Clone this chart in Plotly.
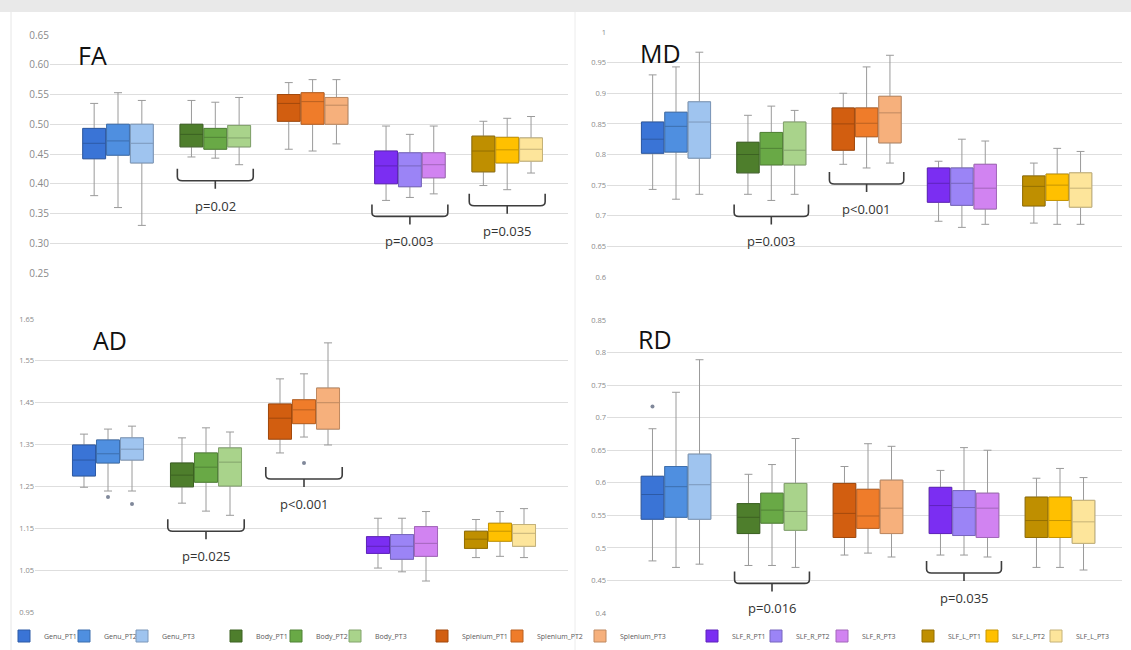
import plotly.graph_objects as go

# ---------------- data ----------------
REGIONS = ["Genu", "Body", "Splenium", "SLF_R", "SLF_L"]
TIMEPOINTS = ["PT1", "PT2", "PT3"]

# order: Genu PT1..PT3, Body PT1..PT3, Splenium PT1..PT3, SLF_R PT1..PT3, SLF_L PT1..PT3
FA_LOW = [0.380, 0.360, 0.330, 0.445, 0.443, 0.432, 0.458, 0.455, 0.467, 0.372, 0.377, 0.383, 0.397, 0.390, 0.418]
FA_Q1 = [0.442, 0.448, 0.435, 0.462, 0.458, 0.462, 0.505, 0.500, 0.500, 0.400, 0.395, 0.410, 0.420, 0.435, 0.438]
FA_MED = [0.468, 0.472, 0.468, 0.483, 0.478, 0.477, 0.535, 0.538, 0.532, 0.430, 0.430, 0.432, 0.455, 0.457, 0.458]
FA_Q3 = [0.493, 0.500, 0.500, 0.500, 0.493, 0.498, 0.550, 0.553, 0.545, 0.455, 0.452, 0.452, 0.480, 0.478, 0.477]
FA_HIGH = [0.535, 0.553, 0.540, 0.540, 0.537, 0.545, 0.570, 0.575, 0.575, 0.497, 0.483, 0.497, 0.505, 0.510, 0.513]

MD_LOW = [0.743, 0.727, 0.735, 0.735, 0.725, 0.735, 0.784, 0.778, 0.786, 0.691, 0.681, 0.686, 0.688, 0.686, 0.686]
MD_Q1 = [0.802, 0.804, 0.794, 0.770, 0.783, 0.783, 0.807, 0.829, 0.819, 0.722, 0.717, 0.711, 0.716, 0.725, 0.714]
MD_MED = [0.825, 0.846, 0.853, 0.800, 0.810, 0.807, 0.850, 0.851, 0.868, 0.753, 0.753, 0.745, 0.748, 0.750, 0.745]
MD_Q3 = [0.853, 0.869, 0.886, 0.820, 0.836, 0.853, 0.876, 0.876, 0.895, 0.778, 0.778, 0.784, 0.765, 0.768, 0.770]
MD_HIGH = [0.930, 0.943, 0.967, 0.864, 0.879, 0.872, 0.900, 0.943, 0.962, 0.789, 0.825, 0.822, 0.786, 0.810, 0.805]

AD_LOW = [1.248, 1.239, 1.239, 1.210, 1.191, 1.181, 1.330, 1.368, 1.349, 1.055, 1.046, 1.024, 1.080, 1.083, 1.080]
AD_Q1 = [1.275, 1.306, 1.313, 1.249, 1.260, 1.251, 1.363, 1.400, 1.387, 1.090, 1.076, 1.083, 1.102, 1.119, 1.107]
AD_MED = [1.313, 1.328, 1.339, 1.277, 1.296, 1.308, 1.413, 1.433, 1.450, 1.107, 1.107, 1.114, 1.124, 1.143, 1.138]
AD_Q3 = [1.349, 1.361, 1.366, 1.306, 1.330, 1.342, 1.447, 1.457, 1.485, 1.130, 1.135, 1.154, 1.143, 1.162, 1.159]
AD_HIGH = [1.375, 1.387, 1.394, 1.366, 1.390, 1.380, 1.507, 1.519, 1.593, 1.174, 1.174, 1.190, 1.171, 1.190, 1.197]
AD_OUTLIER_SERIES = ["Genu_PT2", "Genu_PT3", "Splenium_PT2"]
AD_OUTLIER_VALUES = [1.225, 1.208, 1.306]

RD_LOW = [0.480, 0.470, 0.475, 0.473, 0.473, 0.470, 0.489, 0.492, 0.486, 0.489, 0.489, 0.486, 0.470, 0.470, 0.466]
RD_Q1 = [0.544, 0.547, 0.544, 0.522, 0.538, 0.527, 0.516, 0.530, 0.522, 0.522, 0.519, 0.516, 0.516, 0.516, 0.507]
RD_MED = [0.582, 0.594, 0.597, 0.547, 0.558, 0.556, 0.553, 0.549, 0.561, 0.565, 0.562, 0.561, 0.542, 0.542, 0.540]
RD_Q3 = [0.610, 0.625, 0.644, 0.568, 0.584, 0.599, 0.599, 0.590, 0.604, 0.593, 0.588, 0.584, 0.578, 0.578, 0.573]
RD_HIGH = [0.683, 0.739, 0.789, 0.613, 0.628, 0.668, 0.625, 0.660, 0.656, 0.619, 0.654, 0.650, 0.607, 0.622, 0.608]
RD_OUTLIER_SERIES = ["Genu_PT1"]
RD_OUTLIER_VALUES = [0.717]

FA_TEST_REGIONS = ["Body", "SLF_R", "SLF_L"]
FA_TEST_LABELS = ["p=0.02", "p=0.003", "p=0.035"]
MD_TEST_REGIONS = ["Body", "Splenium"]
MD_TEST_LABELS = ["p=0.003", "p<0.001"]
AD_TEST_REGIONS = ["Body", "Splenium"]
AD_TEST_LABELS = ["p=0.025", "p<0.001"]
RD_TEST_REGIONS = ["Body", "SLF_R"]
RD_TEST_LABELS = ["p=0.016", "p=0.035"]

FA_TICKS = [0.25, 0.30, 0.35, 0.40, 0.45, 0.50, 0.55, 0.60, 0.65]
MD_TICKS = [0.6, 0.65, 0.7, 0.75, 0.8, 0.85, 0.9, 0.95, 1.0]
AD_TICKS = [0.95, 1.05, 1.15, 1.25, 1.35, 1.45, 1.55, 1.65]
RD_TICKS = [0.4, 0.45, 0.5, 0.55, 0.6, 0.65, 0.7, 0.75, 0.8, 0.85]

# ---------------- style ----------------
FILL = {
    "Genu": ["#3a74d6", "#4f8fe0", "#9fc4ef"],
    "Body": ["#4e7e2c", "#69a946", "#a9d38b"],
    "Splenium": ["#d25e10", "#ef7c2a", "#f6b07c"],
    "SLF_R": ["#7b2ef2", "#9b84f6", "#d183f1"],
    "SLF_L": ["#bf8f00", "#ffc000", "#fde59b"],
}
# legend swatch centre (px) for each series, in series order
LEGEND_X = [24, 84, 142, 236, 296, 355, 442, 517, 600, 712, 776, 842, 928, 992, 1056]


def darker(hexc, f=0.78):
    h = hexc.lstrip("#")
    r, g, b = (int(h[i:i + 2], 16) for i in (0, 2, 4))
    return "#%02x%02x%02x" % (int(r * f), int(g * f), int(b * f))


W, H = 1131, 650
WHISKER = "#9a9a9a"
GRID = "#dedede"
TICKC = "#8a8a8a"
BOXW = 0.235
OFFSET = 0.245

PANELS = [
    dict(name="FA", ax="", low=FA_LOW, q1=FA_Q1, med=FA_MED, q3=FA_Q3, high=FA_HIGH,
         out_s=[], out_v=[], tests=(FA_TEST_REGIONS, FA_TEST_LABELS),
         ticks=FA_TICKS, fmt="{:.2f}", tsize=10,
         px=(50, 568), c0=118, pitch=97.3, py=(35, 273), yr=(0.25, 0.65), title=(92, 55)),
    dict(name="MD", ax="2", low=MD_LOW, q1=MD_Q1, med=MD_MED, q3=MD_Q3, high=MD_HIGH,
         out_s=[], out_v=[], tests=(MD_TEST_REGIONS, MD_TEST_LABELS),
         ticks=MD_TICKS, fmt="{:g}", tsize=7.5,
         px=(607, 1122), c0=676, pitch=95.3, py=(32, 277), yr=(0.6, 1.0), title=(660, 53)),
    dict(name="AD", ax="3", low=AD_LOW, q1=AD_Q1, med=AD_MED, q3=AD_Q3, high=AD_HIGH,
         out_s=AD_OUTLIER_SERIES, out_v=AD_OUTLIER_VALUES, tests=(AD_TEST_REGIONS, AD_TEST_LABELS),
         ticks=AD_TICKS, fmt="{:.2f}", tsize=7.5,
         px=(35, 568), c0=108, pitch=98.0, py=(319, 612), yr=(0.95, 1.65), title=(110, 340)),
    dict(name="RD", ax="4", low=RD_LOW, q1=RD_Q1, med=RD_MED, q3=RD_Q3, high=RD_HIGH,
         out_s=RD_OUTLIER_SERIES, out_v=RD_OUTLIER_VALUES, tests=(RD_TEST_REGIONS, RD_TEST_LABELS),
         ticks=RD_TICKS, fmt="{:g}", tsize=7.5,
         px=(607, 1122), c0=676, pitch=96.0, py=(320, 613), yr=(0.4, 0.85), title=(655, 339)),
]

fig = go.Figure()
layout = dict(
    width=W, height=H, margin=dict(l=0, r=0, t=0, b=0, autoexpand=False),
    paper_bgcolor="white", plot_bgcolor="white", showlegend=True,
    font=dict(family="Open Sans, Arial, sans-serif"),
)
shapes = []
annotations = []

shapes.append(dict(type="rect", xref="paper", yref="paper", x0=0, x1=1, y0=1 - 12 / H, y1=1,
                   fillcolor="#e9e9e9", line=dict(width=0), layer="below"))
shapes.append(dict(type="line", xref="paper", yref="paper", x0=11 / W, x1=11 / W, y0=0, y1=1 - 12 / H,
                   line=dict(color="#e6e6e6", width=1)))
shapes.append(dict(type="line", xref="paper", yref="paper", x0=575 / W, x1=575 / W, y0=0, y1=1 - 12 / H,
                   line=dict(color="#ececec", width=1)))

for pi, P in enumerate(PANELS):
    xa = "x" + P["ax"]
    ya = "y" + P["ax"]
    x0p, x1p = P["px"]
    xr = [(x0p - P["c0"]) / P["pitch"], (x1p - P["c0"]) / P["pitch"]]
    ytop, ybot = P["py"]
    upp = (P["yr"][1] - P["yr"][0]) / (ybot - ytop)  # data units per pixel
    yr = [P["yr"][0] - 1.0 * upp, P["yr"][1] + 1.0 * upp]
    layout["xaxis" + P["ax"]] = dict(domain=[x0p / W, x1p / W], range=xr, showgrid=False,
                                     zeroline=False, showticklabels=False, showline=False,
                                     anchor=ya, fixedrange=True)
    layout["yaxis" + P["ax"]] = dict(domain=[1 - (ybot + 1) / H, 1 - (ytop - 1) / H], range=yr,
                                     tickvals=P["ticks"], ticktext=[P["fmt"].format(v) for v in P["ticks"]],
                                     tickfont=dict(size=P["tsize"], color=TICKC),
                                     showgrid=True, gridcolor=GRID, gridwidth=1, zeroline=False,
                                     showline=False, ticks="", anchor=xa, fixedrange=True)

    positions = {}
    for i, reg in enumerate(REGIONS):
        for j, tp in enumerate(TIMEPOINTS):
            k = i * 3 + j
            xpos = i + (j - 1) * OFFSET
            positions[f"{reg}_{tp}"] = xpos
            fig.add_trace(go.Box(
                x=[xpos], q1=[P["q1"][k]], median=[P["med"][k]], q3=[P["q3"][k]],
                lowerfence=[P["low"][k]], upperfence=[P["high"][k]],
                width=BOXW, whiskerwidth=0.35, fillcolor="rgba(0,0,0,0)",
                line=dict(color=WHISKER, width=1), showlegend=False, hoverinfo="skip",
                boxpoints=False, xaxis=xa, yaxis=ya))
    for i, reg in enumerate(REGIONS):
        for j, tp in enumerate(TIMEPOINTS):
            k = i * 3 + j
            xpos = i + (j - 1) * OFFSET
            col = FILL[reg][j]
            lid = "legend" if k == 0 else f"legend{k + 1}"
            fig.add_trace(go.Box(
                x=[xpos], q1=[P["q1"][k]], median=[P["med"][k]], q3=[P["q3"][k]],
                lowerfence=[P["q1"][k]], upperfence=[P["q3"][k]],
                width=BOXW, whiskerwidth=0, fillcolor=col,
                line=dict(color=darker(col), width=1), name=f"{reg}_{tp}",
                legendgroup=f"{reg}_{tp}", showlegend=(pi == 0), legend=lid,
                boxpoints=False, xaxis=xa, yaxis=ya))
    if P["out_s"]:
        fig.add_trace(go.Scatter(
            x=[positions[s] for s in P["out_s"]], y=P["out_v"], mode="markers",
            marker=dict(size=4, color="#80889a"), showlegend=False, hoverinfo="skip",
            xaxis=xa, yaxis=ya))

    regs, labels = P["tests"]
    for reg, lab in zip(regs, labels):
        i = REGIONS.index(reg)
        lows = list(P["low"][i * 3:i * 3 + 3])
        for s, v in zip(P["out_s"], P["out_v"]):
            if s.startswith(reg + "_"):
                lows.append(v)
        top = min(lows) - 4 * upp
        bar = top - 12 * upp
        tick = bar - 8 * upp
        xl, xrr = i - 0.39, i + 0.39
        rx = 0.05
        ry = 4 * upp
        path = (f"M {xl},{top} L {xl},{bar + ry} Q {xl},{bar} {xl + rx},{bar} "
                f"L {xrr - rx},{bar} Q {xrr},{bar} {xrr},{bar + ry} L {xrr},{top} "
                f"M {i},{bar} L {i},{tick}")
        shapes.append(dict(type="path", xref=xa, yref=ya, path=path,
                           line=dict(color="#3d3d3d", width=1.6)))
        annotations.append(dict(x=i, y=bar - 25 * upp, xref=xa, yref=ya, text=lab, showarrow=False,
                                font=dict(size=13, color="#333333", family="Open Sans, Arial"),
                                xanchor="center", yanchor="middle"))
    annotations.append(dict(x=P["title"][0] / W, y=1 - P["title"][1] / H, xref="paper", yref="paper",
                            text=P["name"], showarrow=False, xanchor="center", yanchor="middle",
                            font=dict(size=25, color="#111111", family="Open Sans, Arial")))

for k, cx in enumerate(LEGEND_X):
    lid = "legend" if k == 0 else f"legend{k + 1}"
    layout[lid] = dict(
        orientation="h", x=(cx - 20) / W, y=1 - 636 / H, xref="container", yref="container",
        xanchor="left", yanchor="middle", font=dict(size=7, color="#595959"),
        itemwidth=30, bgcolor="rgba(0,0,0,0)", borderwidth=0)

layout["shapes"] = shapes
layout["annotations"] = annotations
fig.update_layout(**layout)
fig.write_html("out.html")
